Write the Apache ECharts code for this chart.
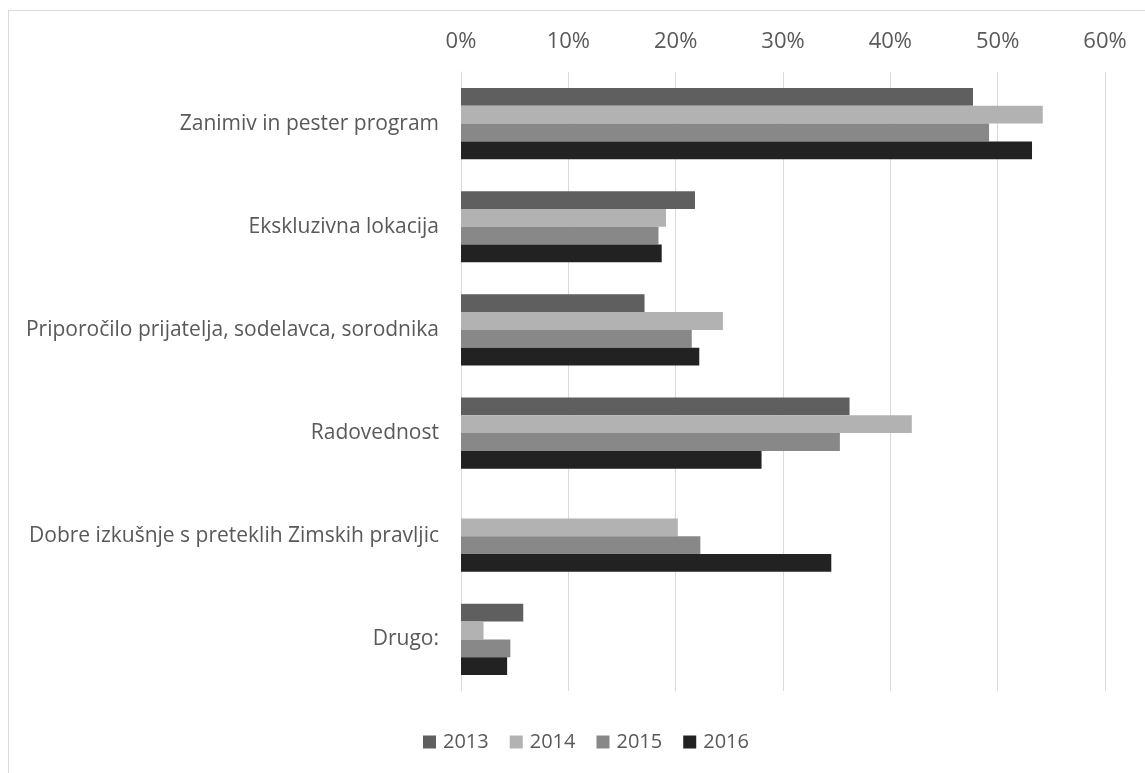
<!DOCTYPE html>
<html>
<head>
<meta charset="utf-8">
<script src="https://cdn.jsdelivr.net/npm/echarts@6/dist/echarts.min.js"></script>
<style>
html,body{margin:0;padding:0;background:#fff;width:1145px;height:773px;overflow:hidden;}
#frame{position:absolute;left:8px;top:10px;width:1200px;height:800px;border:1px solid #d9d9d9;box-sizing:border-box;}
#chart{position:absolute;left:0;top:0;width:1145px;height:773px;}
</style>
</head>
<body>
<div id="frame"></div>
<div id="chart"></div>
<script>
const categories = [
  "Zanimiv in pester program",
  "Ekskluzivna lokacija",
  "Priporočilo prijatelja, sodelavca, sorodnika",
  "Radovednost",
  "Dobre izkušnje s preteklih Zimskih pravljic",
  "Drugo:"
];
const years = ["2013", "2014", "2015", "2016"];
const v2013 = [0.477, 0.218, 0.171, 0.362, null, 0.058];
const v2014 = [0.542, 0.191, 0.244, 0.420, 0.202, 0.021];
const v2015 = [0.492, 0.184, 0.215, 0.353, 0.223, 0.046];
const v2016 = [0.532, 0.187, 0.222, 0.280, 0.345, 0.043];
const xTicks = [0, 0.1, 0.2, 0.3, 0.4, 0.5, 0.6];

const colors = ["#5f5f5f", "#b2b2b2", "#888888", "#222222"];
const values = [v2013, v2014, v2015, v2016];
const font = "'Open Sans', 'Liberation Sans', sans-serif";

const chart = echarts.init(document.getElementById('chart'), null, {renderer: 'canvas'});
chart.setOption({
  animation: false,
  color: colors,
  textStyle: {fontFamily: font},
  grid: {left: 461, right: 40, top: 72, bottom: 82, containLabel: false},
  legend: {
    data: years,
    top: 727,
    left: 418,
    icon: 'rect',
    itemWidth: 13,
    itemHeight: 13,
    itemGap: 21,
    textStyle: {color: '#595959', fontSize: 20, fontFamily: font, padding: [0, 0, 0, 2]}
  },
  xAxis: {
    type: 'value',
    position: 'top',
    min: xTicks[0],
    max: xTicks[xTicks.length - 1],
    interval: 0.1,
    axisLine: {show: false},
    axisTick: {show: false},
    axisLabel: {
      color: '#595959', fontSize: 22, fontFamily: font, margin: 19,
      formatter: v => Math.round(v * 100) + '%'
    },
    splitLine: {show: true, lineStyle: {color: '#d9d9d9', width: 1}}
  },
  yAxis: {
    type: 'category',
    data: categories,
    inverse: true,
    axisLine: {show: true, lineStyle: {color: '#d9d9d9'}},
    axisTick: {show: false},
    axisLabel: {color: '#595959', fontSize: 21, fontFamily: font, margin: 22}
  },
  series: years.map((y, i) => ({
    name: y,
    type: 'bar',
    data: values[i],
    barGap: '0%',
    barCategoryGap: '31%',
    itemStyle: {color: colors[i]}
  }))
});
</script>
</body>
</html>
